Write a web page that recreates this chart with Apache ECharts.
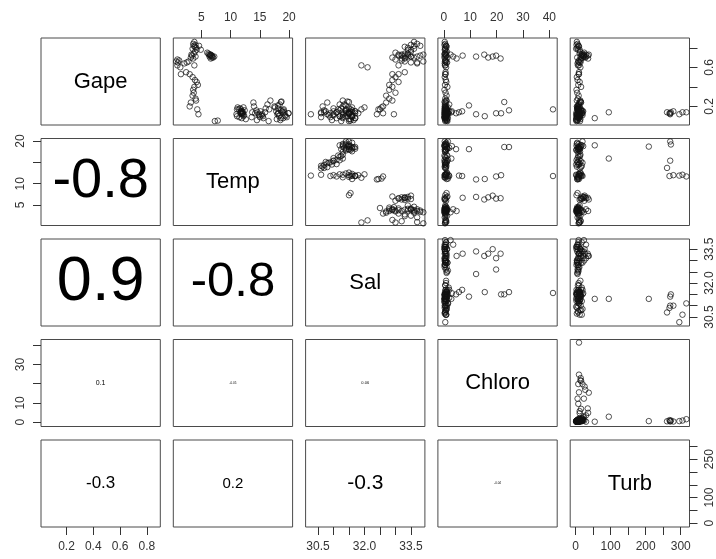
<!DOCTYPE html>
<html><head><meta charset="utf-8">
<script src="https://cdn.jsdelivr.net/npm/echarts@6/dist/echarts.min.js"></script>
<style>html,body{margin:0;padding:0;background:#fff}#c{width:716px;height:559px}</style>
</head><body><div id="c"></div>
<script>
// ---------------- data ----------------
const varNames = ['Gape', 'Temp', 'Sal', 'Chloro', 'Turb'];

const gape = [
  0.86,0.84,0.83,0.82,0.80,0.81,0.79,0.78,0.68,0.67,
  0.66,0.65,0.64,0.65,0.66,0.70,0.72,0.74,0.76,0.71,
  0.69,0.73,0.62,0.53,0.53,0.50,0.47,0.45,0.42,0.40,
  0.37,0.34,0.31,0.28,0.26,0.24,0.20,0.17,0.12,0.55,
  0.78,0.82,
  0.74,0.73,0.72,0.71,0.75,0.70,0.73,0.72,0.71,0.73,0.70,0.71,0.72,0.69,
  0.62,0.60,
  0.17,0.19,
  0.05,0.055,
  0.12,0.14,0.13,0.15,0.14,0.10,0.09,0.16,0.18,0.11,
  0.08,0.13,0.17,0.07,0.12,0.15,0.19,0.14,0.15,0.12,
  0.10,0.13,0.13,0.17,
  0.16,0.12,0.09,0.11,0.14,0.10,0.13,0.15,0.08,0.18,
  0.22,0.26,0.20,0.24,0.06,0.05,0.12,0.14,0.14,0.17,
  0.11,0.09,
  0.20,0.15,0.12,0.10,0.08,0.14,0.17,0.11,0.09,0.13,
  0.18,0.22,0.25,0.07,0.06,0.16,0.19,0.13,0.10,0.15,
  0.13,0.21,0.245,0.16,null,0.13,0.14,0.08
];
const temp = [
  3.8,3.6,4.0,3.7,4.1,3.9,3.5,4.2,0.9,1.2,
  0.7,1.0,2.1,2.5,2.8,3.2,3.4,3.7,3.9,4.0,
  3.6,3.3,3.8,1.5,3.0,3.5,3.9,4.2,4.4,3.8,
  3.6,3.7,3.5,4.0,4.1,3.2,3.0,4.3,4.5,2.4,
  4.9,4.6,
  6.2,6.5,6.8,6.4,6.0,7.0,6.6,6.7,6.9,6.3,6.8,7.2,6.5,6.6,
  0.9,1.4,
  11.1,11.2,
  7.3,7.8,
  11.9,12.1,11.8,12.0,11.7,12.2,11.5,12.4,11.6,12.3,
  11.9,12.0,11.4,12.6,12.1,11.8,12.2,11.9,11.8,11.0,
  11.1,11.7,12.0,11.8,
  14.4,14.8,15.0,15.3,14.6,15.5,14.2,15.1,15.6,16.0,
  16.3,16.8,14.0,13.9,14.5,16.5,15.4,13.7,15.9,16.6,
  14.9,13.6,
  17.5,17.8,18.0,18.3,18.6,18.9,19.1,19.3,19.6,19.9,
  18.1,18.4,18.7,17.9,18.5,19.0,17.6,18.2,19.4,18.8,
  18.1,18.1,18.6,18.6,18.7,19.9,19.2,19.0
];
const sal = [
  33.6,33.7,33.5,33.8,33.4,33.3,33.6,33.5,33.0,33.2,
  33.9,33.7,33.7,33.5,33.3,33.6,33.8,33.4,33.5,33.7,
  33.2,33.9,33.1,32.9,33.1,33.0,32.9,33.1,32.8,32.9,
  32.8,33.0,32.7,32.8,32.9,32.7,32.6,32.5,32.95,33.3,
  33.4,33.6,
  33.3,33.4,33.2,33.5,33.0,32.9,33.1,33.3,33.4,33.2,33.3,33.5,33.1,33.3,
  31.9,32.1,
  32.45,32.55,
  31.5,31.55,
  30.27,30.6,30.9,31.0,31.1,31.2,31.3,31.4,31.5,31.6,
  31.7,31.8,31.9,31.5,31.3,31.7,32.0,31.6,31.7,32.4,
  31.6,32.6,31.5,31.56,
  30.7,30.8,30.9,31.0,31.1,31.2,30.6,30.75,31.1,31.0,
  31.2,31.3,30.65,30.8,30.95,31.25,31.0,30.7,31.3,31.15,
  30.85,30.6,
  31.3,31.4,31.5,31.6,31.7,31.5,31.4,31.3,31.6,31.5,
  31.25,31.35,31.45,31.55,31.65,31.2,31.6,31.7,31.4,31.55,
  31.5,31.4,31.5,31.6,31.3,31.4,31.5,31.3
];
const chloro = [
  0.3,0.5,0.2,0.8,0.4,1.0,0.6,0.3,0.5,0.7,
  0.4,0.9,0.3,1.2,0.6,0.2,0.8,0.5,1.1,3.5,
  4.8,2.5,0.4,0.6,0.5,0.3,0.7,0.9,0.4,1.3,
  0.2,0.6,1.0,0.5,0.8,0.3,0.7,1.1,0.4,0.6,
  0.5,0.8,
  0.3,0.6,1.0,0.4,0.8,1.3,0.2,7.1,12.2,15.3,16.8,18.5,19.8,21.5,
  0.5,0.8,
  1.0,1.5,
  0.5,1.0,
  0.5,0.8,1.0,0.3,1.5,0.6,0.2,1.2,0.4,0.9,
  0.7,1.8,0.5,1.1,0.3,2.0,0.8,5.7,6.9,12.2,
  15.5,19.8,21.7,41.4,
  0.4,0.8,0.3,1.2,0.6,0.2,0.9,0.5,1.5,0.7,
  0.4,1.0,0.3,0.8,0.5,1.3,0.6,0.4,2.8,0.2,
  1.0,0.7,
  0.5,0.8,0.3,1.2,0.6,0.2,1.0,0.4,0.9,1.5,
  0.7,2.0,0.3,0.5,1.1,0.8,0.4,1.3,0.6,3.0,
  4.6,9.5,22.9,24.7,0.5,0.3,0.8,0.2
];
const turb = [
  4,6,3,8,5,10,2,7,12,15,
  9,11,6,14,8,5,18,20,13,30,
  36,24,7,10,9,4,6,12,8,16,
  3,5,9,7,4,11,6,8,5,10,
  12,9,
  12,18,22,15,25,20,30,35,24,38,28,26,20,16,
  10,14,
  5,8,
  3,6,
  296,305,268,279,316,12,8,15,5,10,
  3,18,7,14,2,20,9,12,16,6,
  10,8,14,10,
  8,12,5,15,10,3,18,7,11,6,
  9,14,4,16,2,13,270,261,95,8,
  20,12,
  6,10,4,12,8,3,15,9,5,20,
  7,11,14,2,6,18,13,10,4,22,
  12,8,15,10,209,270,272,55
];

// axis ticks and labels
const gapeTicks = [0.2, 0.4, 0.6, 0.8];
const tempTicks = [5, 10, 15, 20];
const salTicks = [30.5, 31, 31.5, 32, 32.5, 33, 33.5];
const chloroTicks = [0, 10, 20, 30, 40];
const turbTicks = [0, 50, 100, 150, 200, 250, 300];
const gapeLabelsH = [0.2, 0.4, 0.6, 0.8], gapeLabelsV = [0.2, 0.6];
const tempLabelsH = [5, 10, 15, 20], tempLabelsV = [5, 10, 20];
const salLabelsH = [30.5, 32, 33.5], salLabelsV = [30.5, 32, 33.5];
const chloroLabelsH = [0, 10, 20, 30, 40], chloroLabelsV = [0, 10, 30];
const turbLabelsH = [0, 100, 200, 300], turbLabelsV = [0, 100, 250];
const gapeRange = [0.01, 0.9];
const tempRange = [0.2, 20.6];
const salRange = [30.1, 33.95];
const chloroRange = [-2.3, 43];
const turbRange = [-15, 325];

// correlation texts (lower triangle, row by row)
const corText = [
  ['-0.8'],
  ['0.9', '-0.8'],
  ['0.1', '-0.05', '0.06'],
  ['-0.3', '0.2', '-0.3', '-0.04']
];

// ---------------- layout / style ----------------
const corFont = [[56], [63, 49], [7, 3, 4], [17, 15, 21, 3]];
const colLeft = [41, 173.3, 305.6, 437.9, 570.2];
const rowTop = [38, 138.5, 239, 339.5, 440];
const PW = 119.3, PH = 87;
const FONT = '"Liberation Sans", Arial, sans-serif';

const vars = [gape, temp, sal, chloro, turb];
const ranges = [gapeRange, tempRange, salRange, chloroRange, turbRange];
const ticks = [gapeTicks, tempTicks, salTicks, chloroTicks, turbTicks];
const labsH = [gapeLabelsH, tempLabelsH, salLabelsH, chloroLabelsH, turbLabelsH];
const labsV = [gapeLabelsV, tempLabelsV, salLabelsV, chloroLabelsV, turbLabelsV];
const fmt = [v => v.toFixed(1), v => String(v), v => v.toFixed(1), v => String(v), v => String(v)];

const grid = [], xAxis = [], yAxis = [], series = [], graphic = [];

function mkAxis(v, gi, pos, isY) {
  const on = !!pos;
  return {
    type: 'value', gridIndex: gi, min: ranges[v][0], max: ranges[v][1],
    position: pos || (isY ? 'left' : 'bottom'),
    axisLine: { show: false, onZero: false },
    splitLine: { show: false },
    axisTick: { show: on, length: 8, customValues: ticks[v], lineStyle: { color: '#333', width: 1 } },
    axisLabel: {
      show: on, customValues: isY ? labsV[v] : labsH[v], formatter: fmt[v],
      margin: 14, rotate: isY ? 90 : 0, fontSize: 12, color: '#333', fontFamily: FONT,
      hideOverlap: false, showMinLabel: true, showMaxLabel: true
    }
  };
}

for (let i = 0; i < 5; i++) {
  for (let j = 0; j < 5; j++) {
    const gi = i * 5 + j;
    grid.push({
      left: colLeft[j], top: rowTop[i], width: PW, height: PH,
      show: true, borderColor: '#4a4a4a', borderWidth: 1, backgroundColor: 'transparent',
      containLabel: false, outerBoundsMode: 'none'
    });
    let xpos = null, ypos = null;
    if (i === 0 && j % 2 === 1) xpos = 'top';
    if (i === 4 && j % 2 === 0) xpos = 'bottom';
    if (j === 0 && i % 2 === 1) ypos = 'left';
    if (j === 4 && i % 2 === 0) ypos = 'right';
    xAxis.push(mkAxis(j, gi, xpos, false));
    yAxis.push(mkAxis(i, gi, ypos, true));
    const cx = colLeft[j] + PW / 2, cy = rowTop[i] + PH / 2;
    if (i < j) {
      const xs = vars[j], ys = vars[i], data = [];
      for (let k = 0; k < xs.length; k++) {
        if (xs[k] == null || ys[k] == null) continue;
        data.push([xs[k], ys[k]]);
      }
      series.push({
        type: 'scatter', xAxisIndex: gi, yAxisIndex: gi, data: data,
        symbol: 'circle', symbolSize: 5.5, silent: true,
        itemStyle: { color: 'rgba(0,0,0,0)', borderColor: '#111', borderWidth: 0.9 }
      });
    } else if (i === j) {
      graphic.push({
        type: 'text', x: cx, y: cy, silent: true,
        style: { text: varNames[i], fontSize: 22, fontFamily: FONT, fill: '#000', align: 'center', verticalAlign: 'middle' }
      });
    } else {
      graphic.push({
        type: 'text', x: cx, y: cy, silent: true,
        style: { text: corText[i - 1][j], fontSize: corFont[i - 1][j], fontFamily: FONT, fill: '#000', align: 'center', verticalAlign: 'middle' }
      });
    }
  }
}

const chart = echarts.init(document.getElementById('c'), null, { renderer: 'canvas' });
chart.setOption({
  animation: false, backgroundColor: '#fff',
  grid, xAxis, yAxis, series, graphic
});
</script>
</body></html>
